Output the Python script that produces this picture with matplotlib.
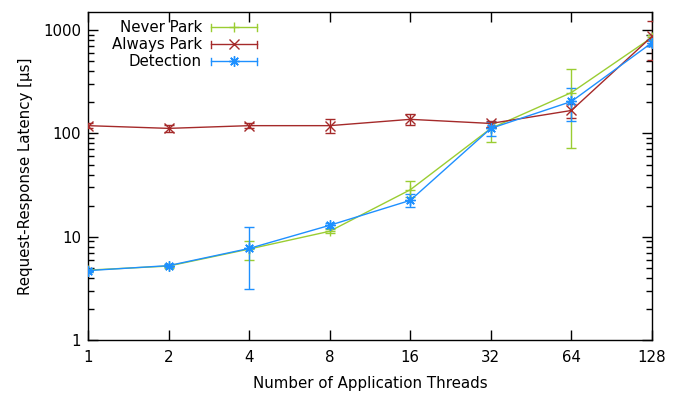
import matplotlib
matplotlib.use("Agg")
import matplotlib.pyplot as plt
import numpy as np

threads = [1, 2, 4, 8, 16, 32, 64, 128]
x_labels = ["1", "2", "4", "8", "16", "32", "64", "128"]

never = [4.75, 5.2, 7.6, 11.3, 28.5, 112, 249, 852]
never_lo = [4.6, 5.0, 6.0, 10.8, 24, 82, 72, 800]
never_hi = [4.9, 5.4, 9.1, 11.8, 35, 127, 422, 900]

always = [119, 112, 119, 119, 137, 125, 167, 870]
always_lo = [113, 104, 113, 100, 121, 115, 140, 520]
always_hi = [125, 120, 126, 139, 153, 133, 195, 1240]

detect = [4.7, 5.25, 7.7, 12.9, 22.5, 112, 204, 757]
detect_lo = [4.55, 5.05, 3.1, 12.2, 19.5, 95, 133, 700]
detect_hi = [4.85, 5.45, 12.4, 13.6, 26, 130, 278, 820]

series = [
    ("Never Park", never, never_lo, never_hi, "#9acd32", "+"),
    ("Always Park", always, always_lo, always_hi, "#a52a2a", "x"),
    ("Detection", detect, detect_lo, detect_hi, "#1e90ff", (8, 2, 0)),
]

FS = 10.8
MS = 7.5
W, H = 680, 394
fig = plt.figure(figsize=(W / 100, H / 100), dpi=100)
L, R, T, B = 88, 652, 12, 340
ax = fig.add_axes([L / W, (H - B) / H, (R - L) / W, (B - T) / H])

for name, v, lo, hi, c, m in series:
    v = np.array(v); lo = np.array(lo); hi = np.array(hi)
    ax.errorbar(threads, v, yerr=[v - lo, hi - v], color=c, lw=1, elinewidth=1,
                capsize=3.5, capthick=1, marker=m, ms=MS, mew=1, zorder=3)

ax.set_xscale("log", base=2)
ax.set_yscale("log")
ax.set_xlim(1, 128)
ax.set_ylim(1, 1500)
ax.set_xticks(threads)
ax.set_xticklabels(x_labels)
ax.xaxis.set_minor_locator(matplotlib.ticker.NullLocator())
ax.set_yticks([1, 10, 100, 1000])
ax.set_yticklabels(["1", "10", "100", "1000"])
ax.tick_params(which="both", direction="in", top=True, right=True, labelsize=FS, width=1)
ax.tick_params(which="major", length=7, pad=5)
ax.tick_params(which="minor", length=4)
ax.tick_params(axis="x", pad=7)
for s in ax.spines.values():
    s.set_linewidth(1)
ax.set_xlabel("Number of Application Threads", fontsize=FS, labelpad=8)
ax.set_ylabel("Request-Response Latency [µs]", fontsize=FS, labelpad=7)

# gnuplot-style key
def ax_xy(px, py):
    return (px - L) / (R - L), (B - py) / (B - T)

for i, (name, v, lo, hi, c, m) in enumerate(series):
    py = 27 + 17 * i
    tx, ty = ax_xy(202, py)
    ax.text(tx, ty, name, transform=ax.transAxes, ha="right", va="center", fontsize=FS)
    x1, y1 = ax_xy(211, py)
    x2, _ = ax_xy(257, py)
    xm, _ = ax_xy(234, py)
    dy = 3.5 / (B - T)
    ax.plot([x1, x2], [y1, y1], color=c, lw=1, transform=ax.transAxes, clip_on=False)
    ax.plot([x1, x1], [y1 - dy, y1 + dy], color=c, lw=1, transform=ax.transAxes, clip_on=False)
    ax.plot([x2, x2], [y1 - dy, y1 + dy], color=c, lw=1, transform=ax.transAxes, clip_on=False)
    ax.plot([xm], [y1], color=c, marker=m, ms=MS, mew=1, transform=ax.transAxes, clip_on=False)

fig.savefig("out.png", dpi=100)
